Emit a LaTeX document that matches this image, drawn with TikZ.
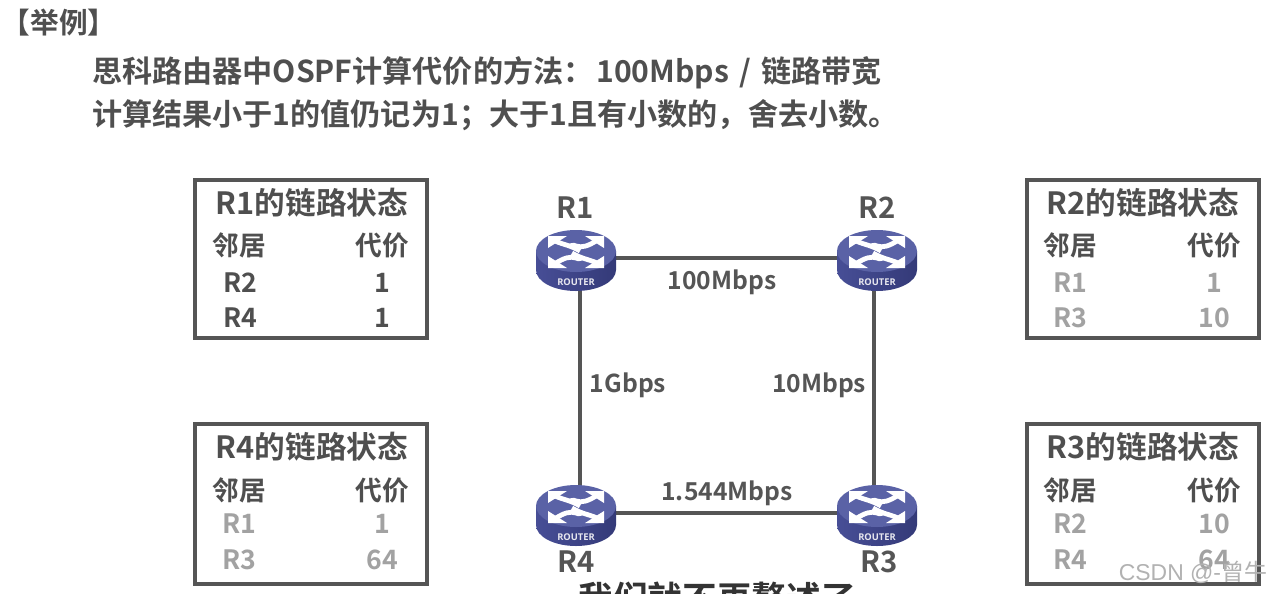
\documentclass[tikz,border=0pt]{standalone}
\usepackage{fontspec}
\setmainfont{Noto Sans CJK SC}[BoldFont={Noto Sans CJK SC Bold}]
\newfontfamily\latin{Open Sans}[BoldFont={Open Sans Bold}]
\newfontfamily\wmfont{Liberation Sans}
\definecolor{ink}{HTML}{555555}
\definecolor{head}{HTML}{4F4F4F}
\definecolor{fade}{HTML}{A2A2A2}
\definecolor{rimb}{HTML}{343A78}
\definecolor{rimc}{HTML}{474E96}
\definecolor{topb}{HTML}{5A62A6}
\newcommand{\fs}[1]{\fontsize{#1}{#1}\selectfont\bfseries}
\tikzset{
 x=0.75pt,y=-0.75pt,
 every node/.style={inner sep=0pt,outer sep=0pt,text=ink,font=\fs{18}},
 link/.style={draw=ink,line width=3pt},
 statebox/.style={draw=ink,line width=3pt,fill=white},
 boxtitle/.style={font=\fs{23},text=head},
 colhead/.style={font=\fs{20},text=head},
 cell/.style={font=\fs{20},text=head},
 faded/.style={font=\fs{20},text=fade},
 devname/.style={font=\fs{22},text=ink},
 rate/.style={font=\fs{18.5},text=ink},
 bigline/.style={font=\fs{22.6},text=head,anchor=base west},
 pics/router/.style={code={
   \shade[left color=rimc,right color=rimb] (-40,-1) -- (-40,18) arc[start angle=180,end angle=0,x radius=40,y radius=21] -- (40,-1) -- cycle;
   \fill[topb] (0,-1) ellipse[x radius=40,y radius=21];
   \foreach \sx/\sy in {1/1,-1/-1}{
     \begin{scope}[xscale=\sx,yscale=\sy]
       \fill[white] (-28,-16) -- (-9,-16) -- (-28,-4) -- cycle;
       \draw[white,line width=3.6pt] (-21,-11) .. controls (-12,-7) and (-6,-7) .. (4,-1);
       \fill[white] (28,-16) -- (9,-16) -- (28,-4) -- cycle;
       \draw[white,line width=3.6pt] (20,-11) .. controls (12,-6) and (6,-4) .. (0,-6) .. controls (-2,-7) .. (-6,-6);
     \end{scope}}
   \node[text=white!88!rimb,font=\fs{7}] at (0,30) {\latin ROUTER};
 }}
}
\begin{document}
\begin{tikzpicture}
\useasboundingbox[fill=white] (0,0) rectangle (1270,593);
\begin{scope}
\clip (0,0) rectangle (1270,593);
% heading
\node[font=\fs{21.5},text=head,anchor=base west] (tag) at (2,33) {【举例】};
\node[bigline] (line1) at (92,82) {思科路由器中OSPF计算代价的方法：\hspace{-3pt} 100Mbps\hspace{2.5pt} / \hspace{2.5pt}链路带宽};
\node[bigline] (line2) at (92,125) {计算结果小于1的值仍记为1；大于1且有小数的，舍去小数。};
% links
\coordinate (r1) at (580,258);
\coordinate (r2) at (874,258);
\coordinate (r3) at (874,513);
\coordinate (r4) at (580,513);
\draw[link] (r1) -- (r2) -- (r3) -- (r4) -- cycle;
\pic at (576,252) {router};
\pic at (877,252) {router};
\pic at (877,507) {router};
\pic at (576,507) {router};
\node[devname] (n1) at (575,208) {R1};
\node[devname] (n2) at (877,208) {R2};
\node[devname] (n4) at (576,562) {R4};
\node[devname] (n3) at (879,562) {R3};
\node[rate] (l12) at (722,282) {100Mbps};
\node[rate] (l14) at (628,385) {1Gbps};
\node[rate] (l23) at (819,385) {10Mbps};
\node[rate] (l34) at (727,493) {1.544Mbps};
% R1 box
\node[statebox,minimum width=174pt,minimum height=119pt] (b1) at (311,259) {};
\node[boxtitle] at (312,203) {R1的链路状态};
\node[colhead] at (239,245) {邻居};
\node[colhead] at (382,245) {代价};
\node[cell] at (240,283) {R2};
\node[cell] at (382,283) {1};
\node[cell] at (240,318) {R4};
\node[cell] at (382,318) {1};
% R2 box
\node[statebox,minimum width=174pt,minimum height=119pt] (b2) at (1143,259) {};
\node[boxtitle] at (1143,203) {R2的链路状态};
\node[colhead] at (1070,245) {邻居};
\node[colhead] at (1214,245) {代价};
\node[faded] at (1070,283) {R1};
\node[faded] at (1214,283) {1};
\node[faded] at (1070,318) {R3};
\node[faded] at (1214,318) {10};
% R4 box
\node[statebox,minimum width=174pt,minimum height=119.5pt] (b4) at (311,504) {};
\node[boxtitle] at (312,447) {R4的链路状态};
\node[colhead] at (239,490) {邻居};
\node[colhead] at (382,490) {代价};
\node[faded] at (239,524) {R1};
\node[faded] at (382,524) {1};
\node[faded] at (239,560) {R3};
\node[faded] at (382,560) {64};
% R3 box
\node[statebox,minimum width=174pt,minimum height=119.5pt] (b3) at (1143,504) {};
\node[boxtitle] at (1143,447) {R3的链路状态};
\node[colhead] at (1070,490) {邻居};
\node[colhead] at (1214,490) {代价};
\node[faded] at (1070,524) {R2};
\node[faded] at (1214,524) {10};
\node[faded] at (1070,560) {R4};
\node[faded] at (1214,560) {64};
% caption cut by the lower edge, watermark
\node[font=\fs{26},text=black!80,anchor=base] (cap) at (717,611) {我们就不再赘述了};
\node[font=\fontsize{17.2}{17.2}\selectfont,text=black!30,anchor=base east] (wm) at (1267,580) {\wmfont CSDN @-\normalfont 曾牛};
\end{scope}
\end{tikzpicture}
\end{document}
